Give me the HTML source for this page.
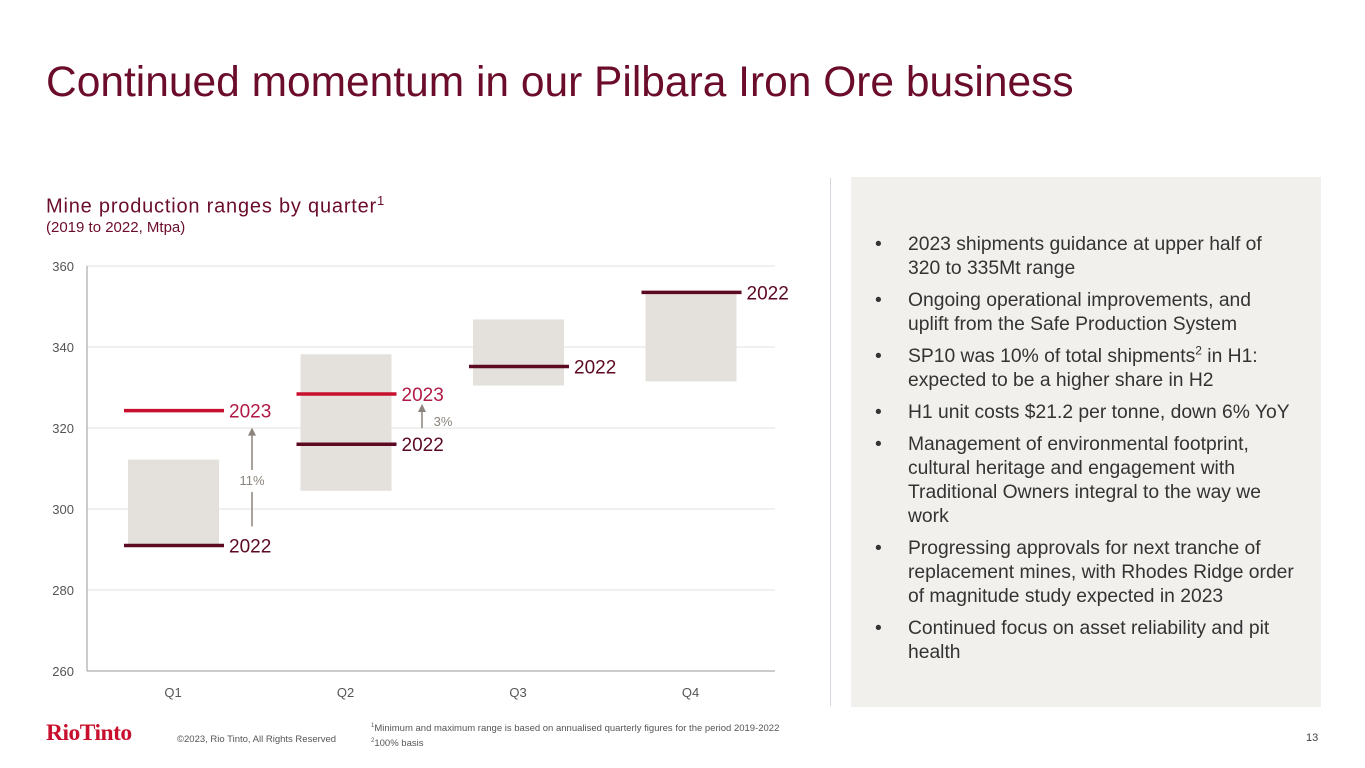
<!DOCTYPE html>
<html><head><meta charset="utf-8"><style>
body{margin:0;width:1365px;height:768px;background:#fff;font-family:"Liberation Sans",sans-serif;position:relative;overflow:hidden}
.a{position:absolute}
ul{margin:0;padding:0;list-style:none}
li{position:relative;padding-left:34px;font-size:19.3px;line-height:24px;color:#333;margin-bottom:8px}
li:before{content:"•";position:absolute;left:1px;top:0}
</style></head><body>
<div class="a" style="left:46px;top:59px;font-size:42.5px;color:#6b0d2a">Continued momentum in our Pilbara Iron Ore business</div>
<div class="a" style="left:46px;top:193px;font-size:20px;color:#6b0d2a;letter-spacing:0.8px">Mine production ranges by quarter<sup style="font-size:13px">1</sup></div>
<div class="a" style="left:46px;top:219px;font-size:15px;color:#6b0d2a">(2019 to 2022, Mtpa)</div>
<svg class="a" id="chart" style="left:0;top:0" width="830" height="768"></svg>
<div class="a" style="left:830px;top:178px;width:1px;height:528px;background:#d6d6de"></div>
<div class="a" style="left:851px;top:177px;width:470px;height:530px;background:#f1f0ec">
<ul style="position:absolute;left:23px;top:56px;width:422px">
<li>2023 shipments guidance at upper half of 320 to 335Mt range</li>
<li>Ongoing operational improvements, and uplift from the Safe Production System</li>
<li>SP10 was 10% of total shipments<sup style="font-size:12px;line-height:0">2</sup> in H1: expected to be a higher share in H2</li>
<li>H1 unit costs $21.2 per tonne, down 6% YoY</li>
<li>Management of environmental footprint, cultural heritage and engagement with Traditional Owners integral to the way we work</li>
<li>Progressing approvals for next tranche of replacement mines, with Rhodes Ridge order of magnitude study expected in 2023</li>
<li>Continued focus on asset reliability and pit health</li>
</ul></div>
<div class="a" style="left:46px;top:720px;font-family:'Liberation Serif',serif;font-weight:bold;font-size:23.5px;color:#c8102e;letter-spacing:-0.5px">RioTinto</div>
<div class="a" style="left:177px;top:734px;font-size:9.5px;color:#555">©2023, Rio Tinto, All Rights Reserved</div>
<div class="a" style="left:371px;top:720px;font-size:9.5px;color:#555;line-height:12px"><sup style="font-size:6px">1</sup>Minimum and maximum range is based on annualised quarterly figures for the period 2019-2022<br><sup style="font-size:6px">2</sup>100% basis</div>
<div class="a" style="left:1306px;top:732px;font-size:11px;color:#444">13</div>
<script>
const quarters=["Q1","Q2","Q3","Q4"];
const rangeMin=[291,304.5,330.5,331.5];
const rangeMax=[312.2,338.2,346.8,353.5];
const v2022=[291,316,335.2,353.5];
const v2023=[324.3,328.4,null,null];
const ticks=[260,280,300,320,340,360];
const NS="http://www.w3.org/2000/svg",svg=document.getElementById("chart");
const y=v=>671-(v-260)*4.05, xc=i=>173+i*172.5;
function mk(t,a,txt){const e=document.createElementNS(NS,t);for(const k in a)e.setAttribute(k,a[k]);if(txt!=null)e.textContent=txt;svg.appendChild(e);return e;}
ticks.forEach(t=>{
 const g=mk("line",{x1:87,x2:775,y1:y(t),y2:y(t),stroke:t==260?"#999":"#e2e2e2","stroke-width":1});
 
 
 const l=mk("text",{x:74,y:y(t)+5,"text-anchor":"end","font-size":13,fill:"#555"},t);
 
 
});
const ax=mk("line",{x1:87,x2:87,y1:266,y2:671,stroke:"#999"});


quarters.forEach((q,i)=>{
 const c=xc(i);
 const r=mk("rect",{x:c-45,y:y(rangeMax[i]),width:91,height:y(rangeMin[i])-y(rangeMax[i]),fill:"#e4e1dc"});
 
 
 const t=mk("text",{x:c,y:697,"text-anchor":"middle","font-size":13,fill:"#555"},q);
 
 
});
quarters.forEach((q,i)=>{
 const c=xc(i);
 if(v2022[i]!=null){
  const l=mk("line",{x1:c-49,x2:c+51,y1:y(v2022[i]),y2:y(v2022[i]),stroke:"#5c0a22","stroke-width":3.5});
  
  
  const t=mk("text",{x:c+56,y:y(v2022[i])+7,"font-size":19,fill:"#5c0a22"},"2022");
  
  
 }
 if(v2023[i]!=null){
  const l=mk("line",{x1:c-49,x2:c+51,y1:y(v2023[i]),y2:y(v2023[i]),stroke:"#c8102e","stroke-width":3.5});
  
  
  const t=mk("text",{x:c+56,y:y(v2023[i])+7,"font-size":19,fill:"#b01a45"},"2023");
  
  
 }
});
function arrow(x,y1,y2,label,lx,ly,gap){
 const g=document.createElementNS(NS,"g");svg.appendChild(g);
 
 
 const s="#8a847c";
 if(gap){
  mk("line",{x1:x,x2:x,y1:y1,y2:gap[0],stroke:s,"stroke-width":1.5});
  mk("line",{x1:x,x2:x,y1:gap[1],y2:y2+6,stroke:s,"stroke-width":1.5});
 } else mk("line",{x1:x,x2:x,y1:y1,y2:y2+6,stroke:s,"stroke-width":1.5});
 mk("polygon",{points:`${x-4},${y2+8} ${x+4},${y2+8} ${x},${y2}`,fill:s});
 const t=mk("text",{x:lx,y:ly,"font-size":13,fill:"#8a847c","text-anchor":"middle"},label);
 
 
}
arrow(252,y(v2022[0])-19,y(v2023[0])+17,"11%",252,485,[492,470]);
arrow(422,y(v2022[1])-16,y(v2023[1])+10,"3%",443,426);
</script>
</body></html>
